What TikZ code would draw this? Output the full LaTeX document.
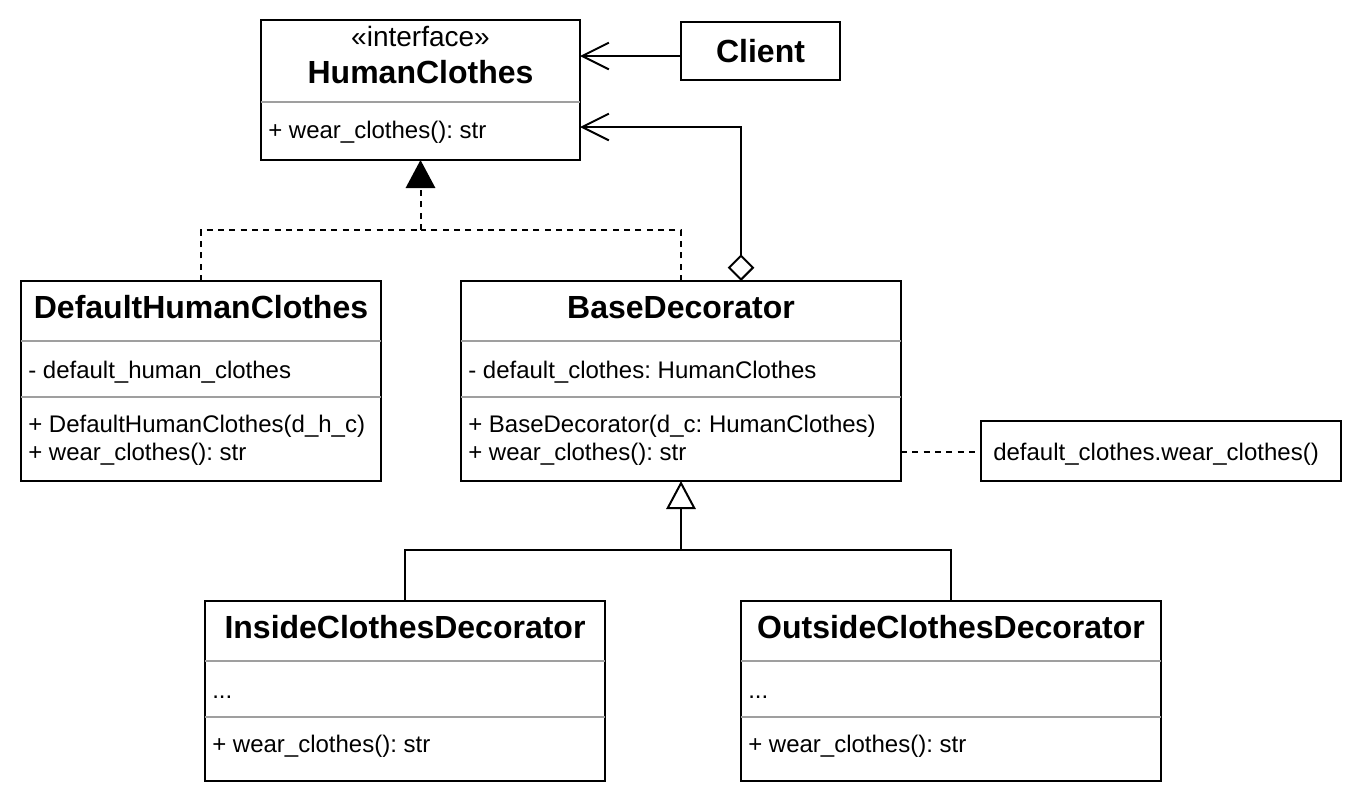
\documentclass[tikz,border=0pt]{standalone}
\usepackage{fontspec}
\setmainfont{Liberation Sans}
\usetikzlibrary{arrows.meta}
\frenchspacing

\tikzset{
  classbox/.style={draw, line width=1.5pt, inner sep=0pt, outer sep=0pt},
  classname/.style={font=\fontsize{24}{28}\selectfont\bfseries, anchor=base, inner sep=0pt},
  stereo/.style={font=\fontsize{21}{25}\selectfont, anchor=base, inner sep=0pt},
  member/.style={font=\fontsize{18}{22}\selectfont, anchor=base west, inner sep=0pt},
  rowline/.style={draw=gray!75, line width=1.5pt},
  conn/.style={line width=1.5pt},
  dashconn/.style={line width=1.5pt, dash pattern=on 4.5pt off 4pt},
  openhead/.style={-{Straight Barb[length=20pt,width=20pt]}},
}

\begin{document}
\begin{tikzpicture}[x=0.75pt,y=-0.75pt]
 \useasboundingbox (0,0) rectangle (1362,804);

 % interface and client
 \node[classbox, minimum width=239.25pt, minimum height=105pt] (hc) at (420.5,90) {};
 \node[stereo] (hcs) at (420.5,46) {«interface»};
 \node[classname] (hcn) at (420.5,83) {HumanClothes};
 \draw[rowline] (hc.west |- 0,102) -- (hc.east |- 0,102);
 \node[member] (hcm) at (268,138) {+ wear\_clothes(): str};

 \node[classbox, minimum width=119.25pt, minimum height=43.5pt] (cl) at (760.5,51) {};
 \node[classname] (cln) at (760.5,62) {Client};

 % concrete component
 \node[classbox, minimum width=270pt, minimum height=150pt] (dhc) at (201,381) {};
 \node[classname] (dhcn) at (201,318) {DefaultHumanClothes};
 \draw[rowline] (dhc.west |- 0,341) -- (dhc.east |- 0,341);
 \node[member] (dhca) at (28,378) {- default\_human\_clothes};
 \draw[rowline] (dhc.west |- 0,397) -- (dhc.east |- 0,397);
 \node[member] (dhcm1) at (28,432) {+ DefaultHumanClothes(d\_h\_c)};
 \node[member] (dhcm2) at (28,460) {+ wear\_clothes(): str};

 % base decorator
 \node[classbox, minimum width=330pt, minimum height=150pt] (bd) at (681,381) {};
 \node[classname] (bdn) at (681,318) {BaseDecorator};
 \draw[rowline] (bd.west |- 0,341) -- (bd.east |- 0,341);
 \node[member] (bda) at (468,378) {- default\_clothes: HumanClothes};
 \draw[rowline] (bd.west |- 0,397) -- (bd.east |- 0,397);
 \node[member] (bdm1) at (468,432) {+ BaseDecorator(d\_c: HumanClothes)};
 \node[member] (bdm2) at (468,460) {+ wear\_clothes(): str};

 % note
 \node[classbox, minimum width=270pt, minimum height=45pt] (nt) at (1161,451) {};
 \node[member] (ntt) at (993,460) {default\_clothes.wear\_clothes()};

 % decorators
 \node[classbox, minimum width=300pt, minimum height=135pt] (icd) at (405,691) {};
 \node[classname] (icdn) at (405,638) {InsideClothesDecorator};
 \draw[rowline] (icd.west |- 0,661) -- (icd.east |- 0,661);
 \node[member] (icda) at (212,698) {...};
 \draw[rowline] (icd.west |- 0,717) -- (icd.east |- 0,717);
 \node[member] (icdm) at (212,752) {+ wear\_clothes(): str};

 \node[classbox, minimum width=315pt, minimum height=135pt] (ocd) at (951,691) {};
 \node[classname] (ocdn) at (951,638) {OutsideClothesDecorator};
 \draw[rowline] (ocd.west |- 0,661) -- (ocd.east |- 0,661);
 \node[member] (ocda) at (748,698) {...};
 \draw[rowline] (ocd.west |- 0,717) -- (ocd.east |- 0,717);
 \node[member] (ocdm) at (748,752) {+ wear\_clothes(): str};

 % connectors
 \coordinate (rj) at (420.5,230);
 \coordinate (gj) at (681,550);

 \draw[conn, openhead] (cl.west |- 0,56) -- (hc.east |- 0,56);
 \draw[conn, {Diamond[open,length=20pt,width=20pt]}-{Straight Barb[length=20pt,width=20pt]}]
   (bd.north -| 741,0) |- (hc.east |- 0,127);

 \draw[dashconn] (dhc.north) |- (rj);
 \draw[dashconn] (bd.north) |- (rj);
 \draw[dashconn, -{Triangle[length=21pt,width=22pt]}] (rj) -- (hc.south);

 \draw[conn] (icd.north) |- (gj) -| (ocd.north);
 \draw[conn, -{Triangle[open,length=21pt,width=22pt]}] (gj) -- (bd.south);

 \draw[dashconn] (bd.east |- 0,452) -- (nt.west |- 0,452);
\end{tikzpicture}
\end{document}
